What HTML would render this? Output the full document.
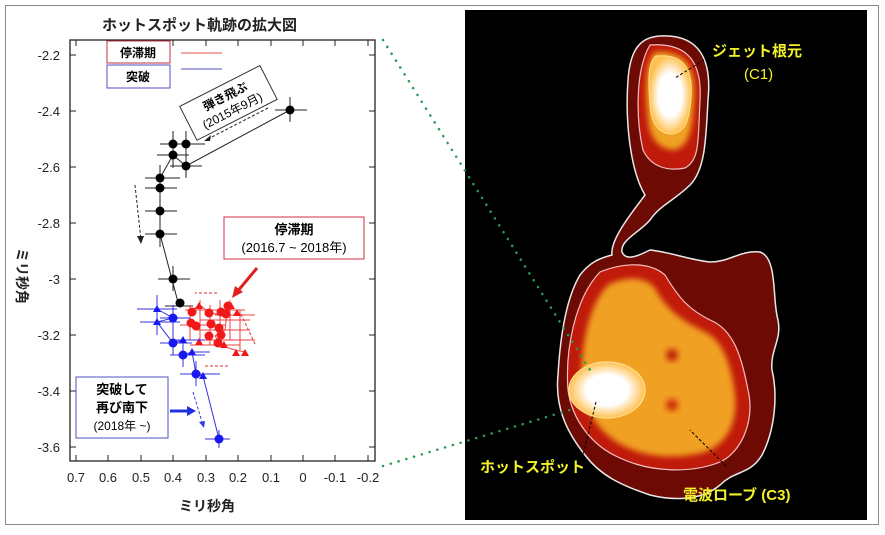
<!DOCTYPE html><html><head><meta charset="utf-8"><style>
body{margin:0;background:#fff;width:885px;height:530px;overflow:hidden;font-family:"Liberation Sans","Noto Sans CJK JP",sans-serif}
</style></head><body>
<svg width="885" height="530" viewBox="0 0 885 530" xmlns="http://www.w3.org/2000/svg" font-family="Liberation Sans, Noto Sans CJK JP, sans-serif">
<defs>
<filter id="bl2" x="-30%" y="-30%" width="160%" height="160%"><feGaussianBlur stdDeviation="5"/></filter>
<filter id="bl3" x="-30%" y="-30%" width="160%" height="160%"><feGaussianBlur stdDeviation="3"/></filter>
<radialGradient id="wg"><stop offset="0.55" stop-color="#fff"/><stop offset="1" stop-color="#ffc050"/></radialGradient>
</defs>
<rect x="5.5" y="5.5" width="873" height="519" fill="#fff" stroke="#888"/>
<rect x="465" y="10" width="402" height="510" fill="#000"/>
<!-- blob -->
<path d="M660,36 C700,34 712,60 708,100 C706,140 705,170 690,185 C675,200 660,205 650,220 C640,232 620,240 622,252 C626,262 640,255 650,250 C670,252 690,260 710,262 C730,262 740,250 760,252 C778,258 772,300 778,320 C782,340 770,350 772,370 C778,395 775,430 762,455 C750,475 735,470 720,485 C700,502 670,500 650,495 C620,485 600,475 585,455 C565,430 555,405 558,375 C560,340 565,300 580,275 C590,262 600,258 612,255 C610,240 630,215 645,195 C630,170 625,120 628,80 C630,50 640,37 660,36Z" fill="#6e0a04" stroke="#e8e8e8" stroke-width="1.5"/>
<path d="M600,272 C625,262 650,262 665,275 C680,300 690,310 710,320 C735,330 742,360 748,390 C755,420 742,452 720,462 C690,474 650,472 620,458 C592,446 572,420 568,390 C565,350 575,298 600,272Z" fill="#c01a0a" stroke="#f5c0c0" stroke-width="1.2"/>
<path d="M608,285 C628,275 648,277 656,290 C668,312 685,322 705,332 C725,342 732,370 735,395 C738,425 725,445 705,452 C675,460 645,457 622,445 C598,432 584,410 582,385 C580,350 588,305 608,285Z" fill="#f0a020" filter="url(#bl3)"/>
<circle cx="672" cy="355" r="6" fill="#c02010" filter="url(#bl3)"/>
<circle cx="672" cy="405" r="6" fill="#d03010" filter="url(#bl3)"/>
<ellipse cx="607" cy="390" rx="38" ry="28" fill="url(#wg)" stroke="#ffe090" stroke-width="1.2"/>
<path d="M650,45 C690,42 702,65 700,100 C698,140 700,160 685,168 C665,172 650,165 643,150 C636,120 635,70 650,45Z" fill="#c01a0a" stroke="#f0c0c0" stroke-width="1.2"/>
<path d="M655,52 C688,50 696,70 694,100 C692,130 690,145 675,150 C660,150 650,140 648,120 C645,90 645,62 655,52Z" fill="#f0a020" filter="url(#bl3)"/>
<path d="M656,56 C686,53 693,72 691,98 C689,122 685,132 672,134 C658,134 651,122 650,105 C648,80 648,62 656,56Z" fill="url(#wg)" stroke="#ffe090" stroke-width="1"/>
<text x="712" y="56" fill="#f2f22a" font-size="15" font-weight="bold">ジェット根元</text>
<text x="744" y="79" fill="#f2f22a" font-size="15">(C1)</text>
<text x="480" y="472" fill="#f2f22a" font-size="15" font-weight="bold">ホットスポット</text>
<text x="683" y="500" fill="#f2f22a" font-size="15" font-weight="bold">電波ローブ (C3)</text>
<line x1="596" y1="402" x2="583" y2="455" stroke="#000" stroke-dasharray="3,2"/>
<line x1="726" y1="466" x2="690" y2="430" stroke="#000" stroke-dasharray="3,2"/>
<line x1="704" y1="60" x2="675" y2="78" stroke="#000" stroke-dasharray="3,2"/>
<!-- green dotted -->
<line x1="383" y1="40" x2="590" y2="370" stroke="#2a9a50" stroke-width="2.5" stroke-dasharray="0.1,8" stroke-linecap="round"/>
<line x1="383" y1="466" x2="570" y2="410" stroke="#2a9a50" stroke-width="2.5" stroke-dasharray="0.1,8" stroke-linecap="round"/>
<!-- chart -->
<text x="102" y="30" font-size="15" font-weight="bold" fill="#222">ホットスポット軌跡の拡大図</text>
<rect x="70" y="40" width="305" height="421" fill="none" stroke="#222" stroke-width="1.3"/>
<g stroke="#222" stroke-width="1">
<path d="M76,461v-6M108,461v-6M141,461v-6M173,461v-6M206,461v-6M238,461v-6M271,461v-6M303,461v-6M335,461v-6M368,461v-6M76,40v6M108,40v6M141,40v6M173,40v6M206,40v6M238,40v6M271,40v6M303,40v6M335,40v6M368,40v6"/>
<path d="M70,55h6M70,111h6M70,167h6M70,223h6M70,279h6M70,335h6M70,391h6M70,447h6M375,55h-6M375,111h-6M375,167h-6M375,223h-6M375,279h-6M375,335h-6M375,391h-6M375,447h-6"/>
</g>
<g font-size="13" fill="#222" text-anchor="end">
<text x="60" y="60">-2.2</text><text x="60" y="116">-2.4</text><text x="60" y="172">-2.6</text><text x="60" y="228">-2.8</text><text x="60" y="284">-3</text><text x="60" y="340">-3.2</text><text x="60" y="396">-3.4</text><text x="60" y="452">-3.6</text>
</g>
<g font-size="13" fill="#222" text-anchor="middle">
<text x="76" y="482">0.7</text><text x="108" y="482">0.6</text><text x="141" y="482">0.5</text><text x="173" y="482">0.4</text><text x="206" y="482">0.3</text><text x="238" y="482">0.2</text><text x="271" y="482">0.1</text><text x="303" y="482">0</text><text x="335" y="482">-0.1</text><text x="368" y="482">-0.2</text>
</g>
<text x="207" y="511" font-size="14" font-weight="bold" text-anchor="middle" fill="#222">ミリ秒角</text>
<text transform="translate(17,248) rotate(90)" font-size="14" font-weight="bold" fill="#222">ミリ秒角</text>
<rect x="107" y="41" width="63" height="22" fill="#fff" stroke="#c03040"/>
<text x="138" y="57" font-size="12" font-weight="bold" text-anchor="middle">停滞期</text>
<line x1="181" y1="53" x2="222" y2="53" stroke="#e05050"/>
<rect x="107" y="65" width="63" height="23" fill="#fff" stroke="#5050c0"/>
<text x="138" y="81" font-size="12" font-weight="bold" text-anchor="middle">突破</text>
<line x1="181" y1="69" x2="222" y2="69" stroke="#5050c0"/>
<g transform="translate(228,102) rotate(-27)"><rect x="-45" y="-18" width="90" height="38" fill="#fff" stroke="#333"/><text x="0" y="-2" font-size="12" font-weight="bold" text-anchor="middle">弾き飛ぶ</text><text x="0" y="14" font-size="12" text-anchor="middle">(2015年9月)</text></g>
<line x1="268" y1="108" x2="206" y2="140" stroke="#222" stroke-dasharray="3,2"/><path d="M204,141l7,-6l-1,6z" fill="#222"/>
<line x1="135" y1="185" x2="141" y2="240" stroke="#222" stroke-dasharray="3,2"/><path d="M141,244l-4,-8l7,0z" fill="#222"/>
<rect x="224" y="217" width="140" height="42" fill="#fff" stroke="#d03040"/>
<text x="294" y="234" font-size="13" font-weight="bold" text-anchor="middle">停滞期</text>
<text x="294" y="252" font-size="13" text-anchor="middle">(2016.7 ~ 2018年)</text>
<line x1="257" y1="268" x2="237" y2="292" stroke="#e02020" stroke-width="3"/><path d="M232,298l3,-12l8,6z" fill="#e02020"/>
<rect x="76" y="377" width="92" height="61" fill="#fff" stroke="#5050c0"/>
<text x="122" y="394" font-size="13" font-weight="bold" text-anchor="middle">突破して</text>
<text x="122" y="412" font-size="13" font-weight="bold" text-anchor="middle">再び南下</text>
<text x="122" y="430" font-size="12" text-anchor="middle">(2018年 ~)</text>
<line x1="170" y1="411" x2="190" y2="411" stroke="#2030e0" stroke-width="3"/><path d="M196,411l-9,-5l0,10z" fill="#2030e0"/>
<line x1="193" y1="392" x2="203" y2="425" stroke="#3040e0" stroke-dasharray="3,2"/><path d="M204,428l-5,-6l6,-1z" fill="#3040e0"/>
<g stroke="#e03030" stroke-dasharray="3,2" fill="none"><path d="M217,293h-22"/><path d="M205,366h25"/><path d="M255,344l-14,-30"/></g>
<g stroke="#222" stroke-width="1">
<polyline fill="none" points="290,110 186,166 173,155 160,178 160,234 179,306"/>
<path d="M275,110h32M290,97v25M160,144h40M173,131v25M175,144h30M186,131v25M157,155h32M173,143v25M170,166h32M186,153v25M145,178h35M160,165v25M145,188h32M145,211h32M145,234h32M160,222v25M158,279h32M173,266v25M165,306h28"/>
</g>
<g fill="#000"><circle cx="290" cy="110" r="4.5"/><circle cx="173" cy="144" r="4.5"/><circle cx="186" cy="144" r="4.5"/><circle cx="173" cy="155" r="4.5"/><circle cx="186" cy="166" r="4.5"/><circle cx="160" cy="178" r="4.5"/><circle cx="160" cy="188" r="4.5"/><circle cx="160" cy="211" r="4.5"/><circle cx="160" cy="234" r="4.5"/><circle cx="173" cy="279" r="4.5"/><circle cx="180" cy="303" r="4.5"/></g>
<g stroke="#f04040" stroke-width="1">
<path d="M185,310h60M195,330h55M190,345h50M180,325h45M200,320h50M230,300v40M220,300v45M210,305v40M200,300v40M190,305v35M240,310v40M205,340h50M215,315h40"/>
<polyline fill="none" points="192,310 200,305 210,313 222,315 228,305 225,330 215,336 222,346 235,350 245,352"/>
</g>
<g fill="#f01818"><circle cx="192" cy="312" r="4.5"/><circle cx="191" cy="323" r="4.5"/><circle cx="196" cy="326" r="4.5"/><circle cx="209" cy="313" r="4.5"/><circle cx="221" cy="312" r="4.5"/><circle cx="228" cy="306" r="4.5"/><circle cx="226" cy="314" r="4.5"/><circle cx="211" cy="324" r="4.5"/><circle cx="219" cy="328" r="4.5"/><circle cx="221" cy="335" r="4.5"/><circle cx="209" cy="336" r="4.5"/><circle cx="218" cy="343" r="4.5"/>
<path d="M199,302l4,7h-8zM231,302l4,7h-8zM237,309l4,7h-8zM224,341l4,7h-8zM236,349l4,7h-8zM245,349l4,7h-8zM199,338l4,7h-8z"/></g>
<g stroke="#3030e0" stroke-width="1">
<path d="M137,309h40M157,295v25M140,322h40M157,310v25M160,318h30M173,305v25M160,343h32M173,330v25M170,355h35M183,342v25M180,374h40M196,361v25M205,439h25M219,430v18M175,340h30M190,352h20"/>
<polyline fill="none" points="157,309 173,318 157,322 173,343 183,340 183,355 192,352 196,374 203,376 219,439"/>
</g>
<g fill="#1818f0"><circle cx="173" cy="318" r="4.5"/><circle cx="173" cy="343" r="4.5"/><circle cx="183" cy="355" r="4.5"/><circle cx="196" cy="374" r="4.5"/><circle cx="219" cy="439" r="4.5"/>
<path d="M157,305l4,7h-8zM157,318l4,7h-8zM183,336l4,7h-8zM192,348l4,7h-8zM203,372l4,7h-8z"/></g>
</svg>
</body></html>
